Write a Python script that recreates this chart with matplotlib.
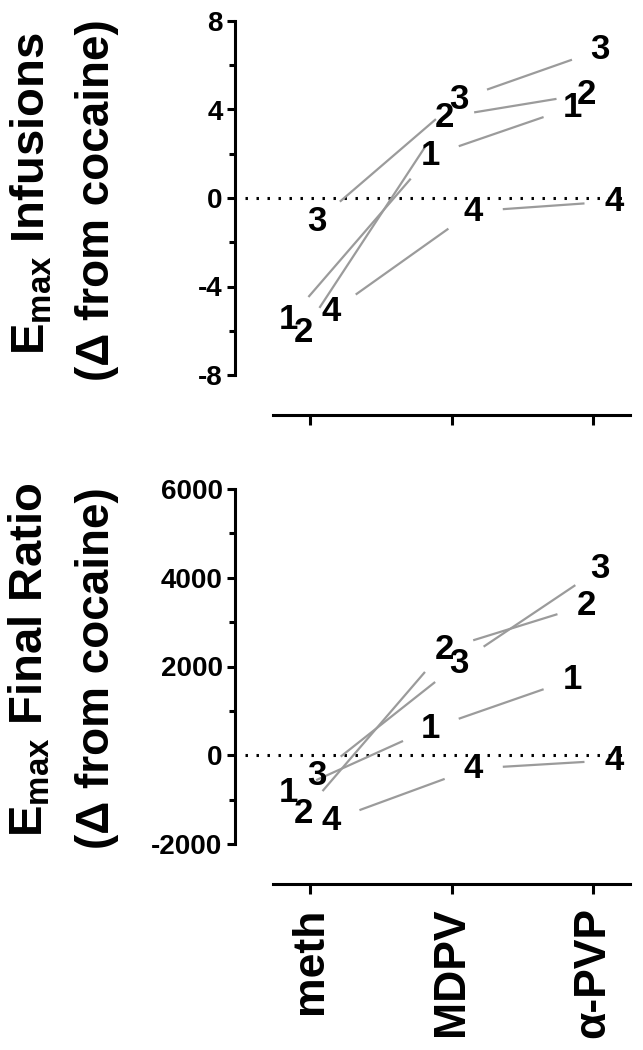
import matplotlib
matplotlib.use('Agg')
import matplotlib.pyplot as plt
from matplotlib.ticker import MultipleLocator
import numpy as np

plt.rcParams['font.family'] = ['Liberation Sans', 'DejaVu Sans']
plt.rcParams['font.weight'] = 'bold'
plt.rcParams['axes.unicode_minus'] = False
plt.rcParams['mathtext.fontset'] = 'custom'
plt.rcParams['mathtext.bf'] = 'Liberation Sans:bold'
plt.rcParams['mathtext.rm'] = 'Liberation Sans:bold'
plt.rcParams['mathtext.default'] = 'bf'

drugs = ['meth', 'MDPV', 'α-PVP']
subjects = ['1', '2', '3', '4']

# Emax infusions (delta from cocaine), one row per subject
infusions = [[-5.5, 1.9, 4.1],
             [-6.1, 3.65, 4.7],
             [-1.05, 4.45, 6.7],
             [-5.15, -0.6, -0.15]]

# Emax final ratio (delta from cocaine), one row per subject
final_ratio = [[-840, 600, 1710],
               [-1320, 2390, 3380],
               [-450, 2070, 4210],
               [-1470, -300, -110]]

W, H, DPI = 643, 1050, 100
fig = plt.figure(figsize=(W / DPI, H / DPI), dpi=DPI)

ax_top = fig.add_axes([235 / W, 1 - 375 / H, (630 - 235) / W, (375 - 21) / H])
ax_bot = fig.add_axes([235 / W, 1 - 844 / H, (630 - 235) / W, (844 - 489) / H])

GAP = 30  # pixels left blank around each number


def draw_panel(ax, values, ylim, major, minor):
    ax.set_xlim(-0.53, 2.26)
    ax.set_ylim(*ylim)
    ax.axhline(0, xmin=0.025, xmax=0.985, color='black', lw=2.2,
               linestyle=(0, (0.8, 2.8)), zorder=1)
    x = np.arange(len(drugs))
    for i, vals in enumerate(values):
        xs = x + (i - 1.5) * 0.1
        for k in range(len(xs) - 1):
            p0 = ax.transData.transform((xs[k], vals[k]))
            p1 = ax.transData.transform((xs[k + 1], vals[k + 1]))
            d = p1 - p0
            L = np.hypot(*d)
            a = p0 + d / L * GAP
            b = p1 - d / L * GAP
            a, b = ax.transData.inverted().transform([a, b])
            ax.plot([a[0], b[0]], [a[1], b[1]], color='#9b9b9b', lw=1.6,
                    solid_capstyle='butt', zorder=2)
        for xx, v in zip(xs, vals):
            ax.text(xx, v, subjects[i], ha='center', va='center',
                    fontsize=25, fontweight='bold', zorder=3)

    for s in ['top', 'right']:
        ax.spines[s].set_visible(False)
    ax.spines['left'].set_linewidth(2.2)
    ax.spines['bottom'].set_linewidth(2.2)
    ax.spines['bottom'].set_position(('outward', 28.5))
    ax.spines['bottom'].set_bounds(-0.26, 2.26)
    ax.set_xticks(x)
    ax.yaxis.set_major_locator(MultipleLocator(major))
    ax.yaxis.set_minor_locator(MultipleLocator(minor))
    ax.tick_params(axis='y', which='major', length=6, width=2.2, labelsize=20, pad=3)
    ax.tick_params(axis='y', which='minor', length=4, width=2.2)
    ax.tick_params(axis='x', which='major', length=7, width=2.2)
    for lab in ax.get_yticklabels():
        lab.set_fontweight('bold')


draw_panel(ax_top, infusions, (-8, 8), 4, 2)
ax_top.set_xticklabels([])

draw_panel(ax_bot, final_ratio, (-2000, 6000), 2000, 1000)
ax_bot.set_xticklabels(drugs, rotation=90, fontsize=32, fontweight='bold')
ax_bot.tick_params(axis='x', pad=10)

# y-axis titles
fig.text(32 / W, 1 - 194 / H, r'E$_{max}$ Infusions', rotation=90,
         ha='center', va='center', fontsize=34, fontweight='bold')
fig.text(97 / W, 1 - 200 / H, '(Δ from cocaine)', rotation=90,
         ha='center', va='center', fontsize=33, fontweight='bold')
fig.text(30 / W, 1 - 660 / H, r'E$_{max}$ Final Ratio', rotation=90,
         ha='center', va='center', fontsize=34, fontweight='bold')
fig.text(97 / W, 1 - 668 / H, '(Δ from cocaine)', rotation=90,
         ha='center', va='center', fontsize=33, fontweight='bold')

fig.savefig('out.png', dpi=DPI)
